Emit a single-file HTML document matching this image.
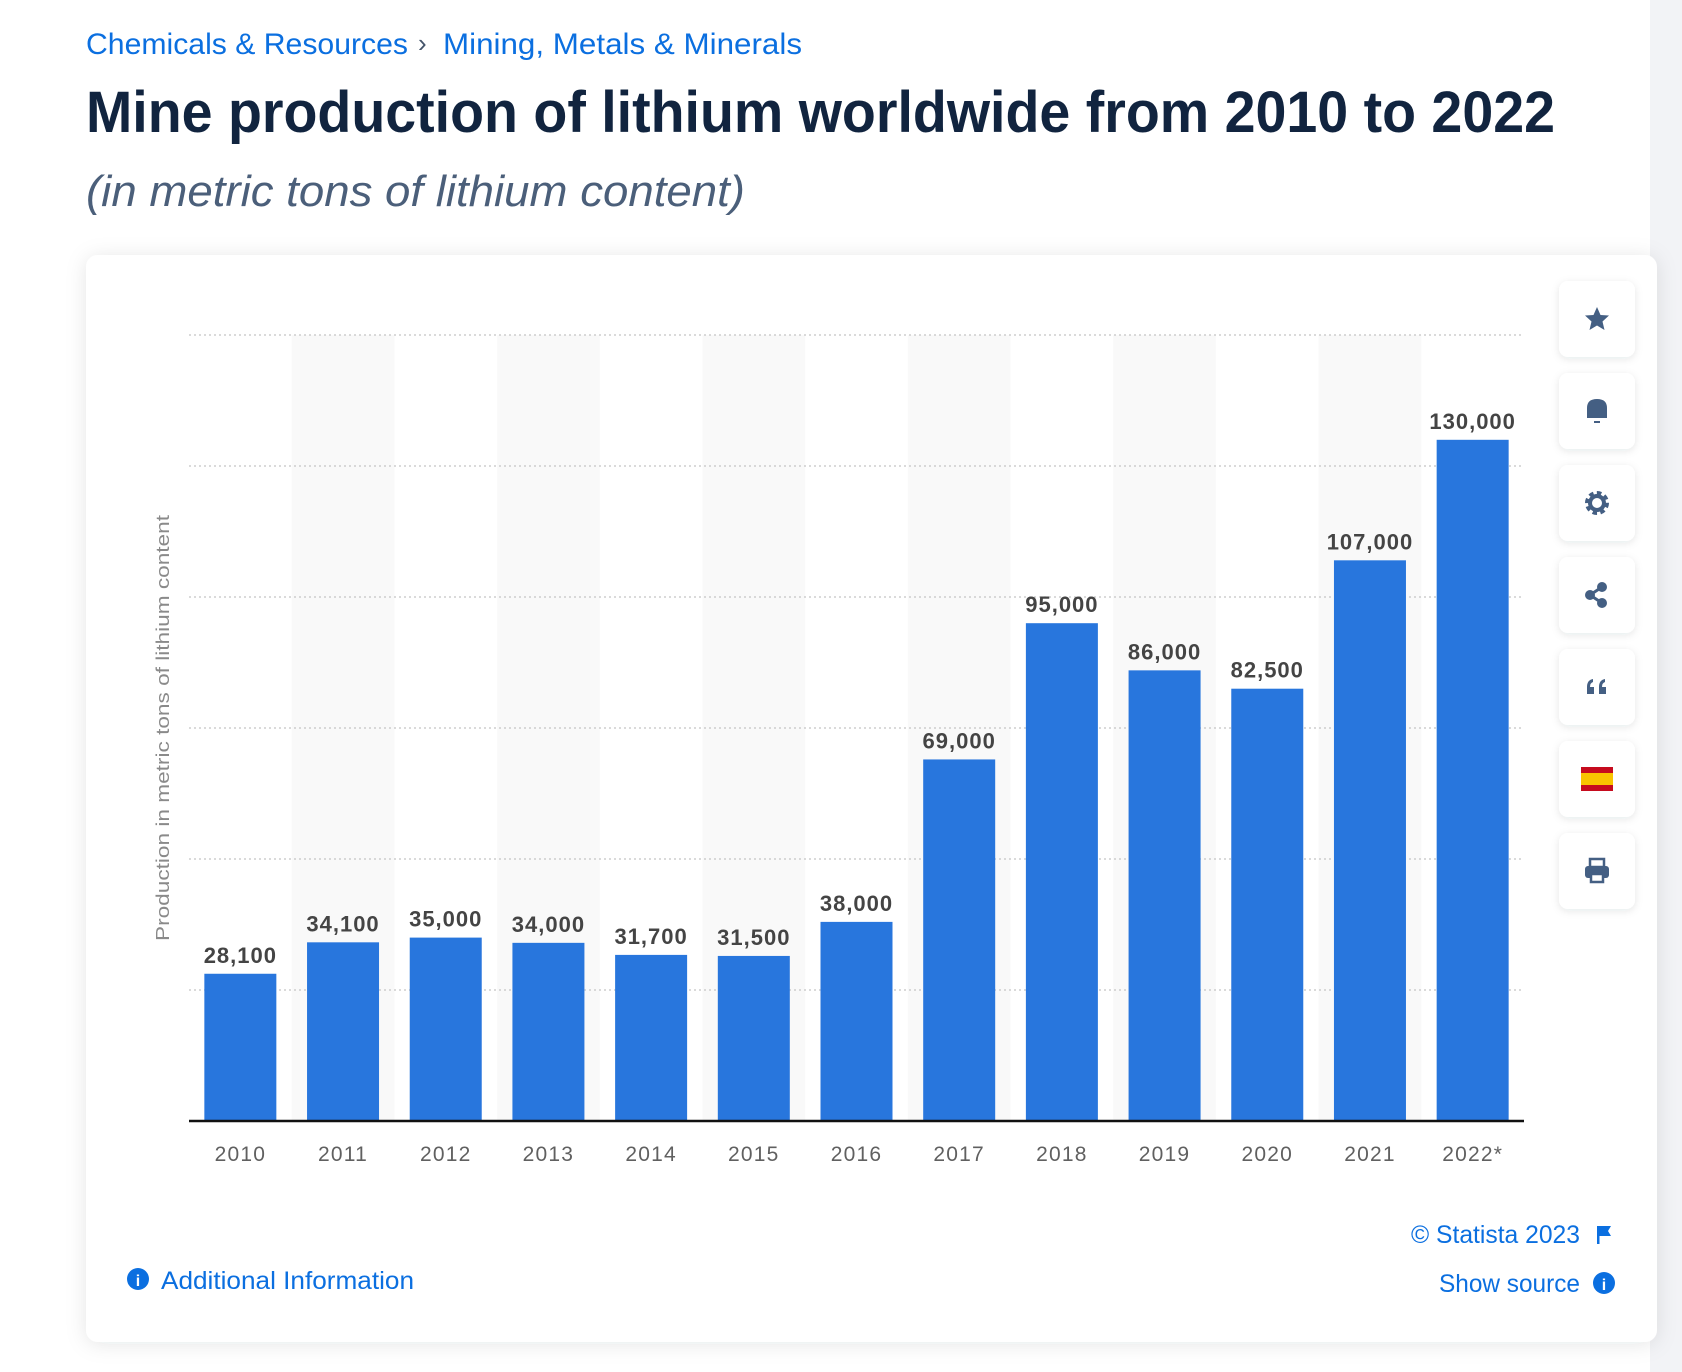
<!DOCTYPE html>
<html><head><meta charset="utf-8"><style>
html,body{margin:0;padding:0;background:#fff;width:1682px;height:1372px;overflow:hidden}
svg{display:block}
text{font-family:"Liberation Sans",sans-serif}
</style></head><body>
<svg width="1682" height="1372" viewBox="0 0 1682 1372">
<defs>
<filter id="sh" x="-5%" y="-5%" width="110%" height="110%"><feDropShadow dx="0" dy="2" stdDeviation="10" flood-color="#1e2a3c" flood-opacity="0.10"/></filter>
<filter id="sh2" x="-20%" y="-20%" width="140%" height="140%"><feDropShadow dx="0" dy="2" stdDeviation="4" flood-color="#1e2a3c" flood-opacity="0.10"/></filter>
</defs>
<rect x="1650" y="0" width="32" height="1372" fill="#f2f3f6"/>
<g>
<text x="86" y="54" font-size="30" fill="#0b6fe0" textLength="322" lengthAdjust="spacingAndGlyphs">Chemicals &amp; Resources</text>
<text x="418" y="52" font-size="26" fill="#44546a">›</text>
<text x="443" y="54" font-size="30" fill="#0b6fe0" textLength="359" lengthAdjust="spacingAndGlyphs">Mining, Metals &amp; Minerals</text>
</g>
<text x="86" y="132" font-size="58" font-weight="bold" fill="#11243f" textLength="1469" lengthAdjust="spacingAndGlyphs">Mine production of lithium worldwide from 2010 to 2022</text>
<text x="86" y="206" font-size="44" font-style="italic" fill="#4b5f7a" textLength="659" lengthAdjust="spacingAndGlyphs">(in metric tons of lithium content)</text>

<rect x="86" y="255" width="1571" height="1087" rx="12" fill="#fff" filter="url(#sh)"/>

<g id="plot"></g>

<text transform="translate(169,728) rotate(-90)" text-anchor="middle" font-size="18" fill="#8a8a8a" textLength="426" lengthAdjust="spacingAndGlyphs">Production in metric tons of lithium content</text>

<g id="tools"></g>

<g>
<circle cx="138" cy="1279" r="11" fill="#0b6fe0"/>
<text x="138" y="1286" text-anchor="middle" font-size="16" font-weight="bold" fill="#fff">i</text>
<text x="161" y="1289" font-size="25" fill="#0b6fe0" textLength="253" lengthAdjust="spacingAndGlyphs">Additional Information</text>
</g>
<text x="1580" y="1243" text-anchor="end" font-size="25" fill="#0b6fe0" textLength="169" lengthAdjust="spacingAndGlyphs">© Statista 2023</text>
<g>
<rect x="1597" y="1226" width="2.5" height="18" fill="#0b6fe0"/>
<path d="M1599 1226 L1611 1226 L1608 1231 L1611 1236 L1599 1236 Z" fill="#0b6fe0"/>
</g>
<text x="1580" y="1292" text-anchor="end" font-size="25" fill="#0b6fe0" textLength="141" lengthAdjust="spacingAndGlyphs">Show source</text>
<circle cx="1604" cy="1283" r="11" fill="#0b6fe0"/>
<text x="1604" y="1290" text-anchor="middle" font-size="16" font-weight="bold" fill="#fff">i</text>
</svg>
<script>
const categories = ["2010","2011","2012","2013","2014","2015","2016","2017","2018","2019","2020","2021","2022*"];
const values = [28100,34100,35000,34000,31700,31500,38000,69000,95000,86000,82500,107000,130000];
const valueLabels = ["28,100","34,100","35,000","34,000","31,700","31,500","38,000","69,000","95,000","86,000","82,500","107,000","130,000"];
const yTicks = [0,25000,50000,75000,100000,125000,150000];

const NS='http://www.w3.org/2000/svg';
const plot=document.getElementById('plot');
const X0=189,X1=1524,Y0=1121,YTOP=335,YMAX=150000;
const slot=(X1-X0)/categories.length;
function xScale(i){return X0+slot*i;}
function yScale(v){return Y0-(v/YMAX)*(Y0-YTOP);}
function mk(tag,attrs){const e=document.createElementNS(NS,tag);for(const k in attrs)e.setAttribute(k,attrs[k]);return e;}

categories.forEach((c,i)=>{
  if(i%2===1){
    const b=mk('rect',{x:xScale(i),y:yScale(YMAX),width:slot,height:Y0-yScale(YMAX),fill:'#f9f9f9'});
    
    
    plot.appendChild(b);
  }
});
yTicks.forEach(t=>{
  if(t===0)return;
  const l=mk('line',{x1:X0,x2:X1,y1:yScale(t),y2:yScale(t),stroke:'#c4c4c4','stroke-width':1.3,'stroke-dasharray':'2 3'});
  
  
  plot.appendChild(l);
});
const bw=72;
categories.forEach((c,i)=>{
  const cx=xScale(i)+slot/2;
  const r=mk('rect',{x:cx-bw/2,y:yScale(values[i]),width:bw,height:Y0-yScale(values[i]),fill:'#2876dd'});
  
  
  plot.appendChild(r);
  const t=mk('text',{x:cx,y:yScale(values[i])-11,'text-anchor':'middle','font-size':22,'font-weight':'bold',fill:'#444','letter-spacing':'1'});
  t.textContent=valueLabels[i];
  
  
  plot.appendChild(t);
  const yl=mk('text',{x:cx,y:1161,'text-anchor':'middle','font-size':21,fill:'#606060','letter-spacing':'1.2'});
  yl.textContent=c;
  
  
  plot.appendChild(yl);
});
const ax=mk('line',{x1:X0,x2:X1,y1:Y0,y2:Y0,stroke:'#111','stroke-width':2.5});


plot.appendChild(ax);

const tools=document.getElementById('tools');
const names=['favorite-button','notification-button','settings-button','share-button','cite-button','language-button','print-button'];
const C='#445f83';
const icons=[
 (x,y)=>`<path d="M${x} ${y-12} L${x+3.5} ${y-4} L${x+12} ${y-3.5} L${x+5.5} ${y+2.5} L${x+7.5} ${y+11} L${x} ${y+6.5} L${x-7.5} ${y+11} L${x-5.5} ${y+2.5} L${x-12} ${y-3.5} L${x-3.5} ${y-4} Z" fill="${C}"/>`,
 (x,y)=>`<path d="M${x-10} ${y+7} L${x-10} ${y-3} Q${x-10} ${y-12} ${x} ${y-12} Q${x+10} ${y-12} ${x+10} ${y-3} L${x+10} ${y+7} Z" fill="${C}"/><rect x="${x-3}" y="${y+10}" width="6" height="2" fill="${C}"/>`,
 (x,y)=>`<circle cx="${x}" cy="${y}" r="9" fill="none" stroke="${C}" stroke-width="6" stroke-dasharray="4 3"/><circle cx="${x}" cy="${y}" r="7" fill="none" stroke="${C}" stroke-width="4"/>`,
 (x,y)=>`<circle cx="${x+5}" cy="${y-8}" r="5" fill="${C}"/><circle cx="${x+5}" cy="${y+8}" r="5" fill="${C}"/><circle cx="${x-7}" cy="${y}" r="5" fill="${C}"/><path d="M${x+5} ${y-8} L${x-7} ${y} L${x+5} ${y+8}" stroke="${C}" stroke-width="3" fill="none"/>`,
 (x,y)=>`<path d="M${x-10} ${y+7} L${x-10} ${y} Q${x-10} ${y-7} ${x-4} ${y-8} L${x-4} ${y-5} Q${x-7} ${y-4} ${x-7} ${y} L${x-3} ${y} L${x-3} ${y+7} Z M${x+2} ${y+7} L${x+2} ${y} Q${x+2} ${y-7} ${x+8} ${y-8} L${x+8} ${y-5} Q${x+5} ${y-4} ${x+5} ${y} L${x+9} ${y} L${x+9} ${y+7} Z" fill="${C}"/>`,
 (x,y)=>`<rect x="${x-16}" y="${y-12}" width="32" height="24" fill="#c60b1e"/><rect x="${x-16}" y="${y-6}" width="32" height="12" fill="#f9c400"/>`,
 (x,y)=>`<rect x="${x-7}" y="${y-12}" width="14" height="8" fill="none" stroke="${C}" stroke-width="2.5"/><rect x="${x-12}" y="${y-5}" width="24" height="12" rx="3" fill="${C}"/><rect x="${x-6}" y="${y+3}" width="12" height="8" fill="#fff" stroke="${C}" stroke-width="2.5"/>`
];
names.forEach((n,i)=>{
  const y=281+92*i;
  const g=mk('g',{});
  
  
  g.innerHTML=`<rect x="1559" y="${y}" width="76" height="76" rx="9" fill="#fff" filter="url(#sh2)"/>`+icons[i](1597,y+38);
  tools.appendChild(g);
});
</script>
</body></html>
